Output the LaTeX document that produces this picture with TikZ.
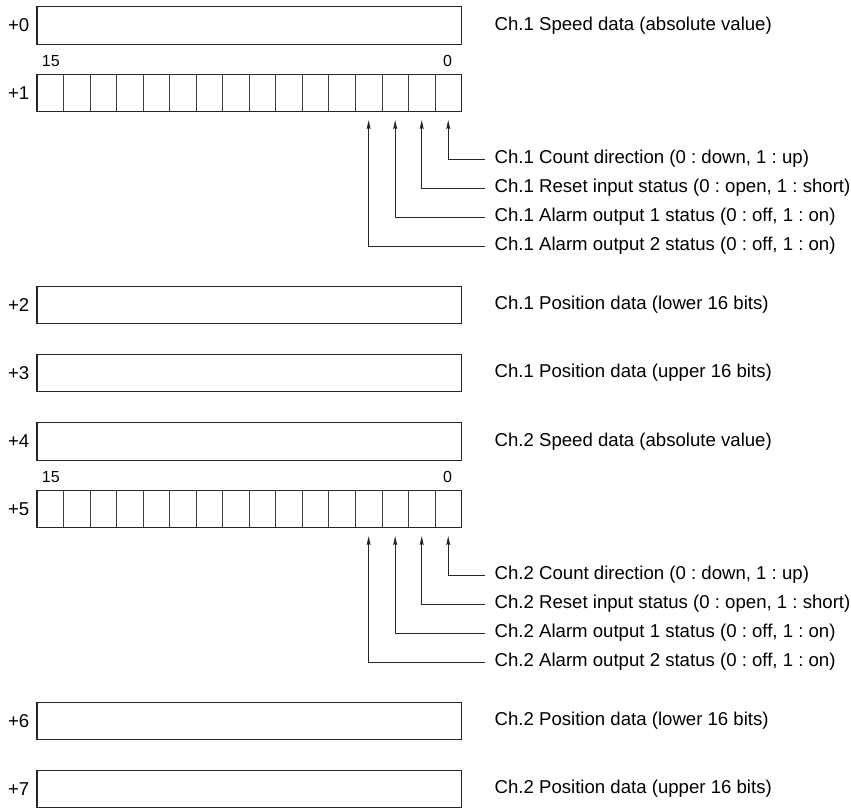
\documentclass[tikz,border=0pt]{standalone}
\usepackage{fontspec}
\setmainfont{Liberation Sans}
\usetikzlibrary{arrows.meta}
\begin{document}
\frenchspacing
\begin{tikzpicture}[x=1pt,y=-1pt,
  reg/.style={draw=black!85, line width=1.1pt, minimum width=424.5pt, minimum height=37.5pt, inner sep=0pt},
  bitcell/.style={draw=black!75, line width=0.8pt, minimum width=26.53pt, minimum height=37.5pt, inner sep=0pt},
  addr/.style={anchor=east, inner sep=0pt, font=\fontsize{18.6}{22}\selectfont},
  desc/.style={anchor=west, inner sep=0pt, font=\fontsize{18.6}{22}\selectfont},
  bitnum/.style={inner sep=0pt, font=\fontsize{16}{18}\selectfont},
  arr/.style={draw=black!85, line width=0.8pt, -{Stealth[length=9pt,width=4pt,inset=1.5pt]}}]
\useasboundingbox (0,0) rectangle (851,809);

% ---------- registers ----------
\node[reg] (r0) at (249.25,25.5) {};
\node[addr] (a0) at (29.5,25.5) {+0};
\node[desc] (t0) at (494.5,25.5) {Ch.1 Speed data (absolute value)};

\foreach \i in {0,...,15} \node[bitcell] (c1-\i) at ({461.5-(\i+0.5)*26.53},93) {};
\node[reg] (r1) at (249.25,93) {};
\node[addr] (a1) at (29.5,93) {+1};
\node[bitnum] (n1h) at (50.8,61) {15};
\node[bitnum] (n1l) at (447.5,61) {0};

\node[desc] (d10) at (494.5,159) {Ch.1 Count direction (0 : down, 1 : up)};
\node[desc] (d11) at (494.5,188) {Ch.1 Reset input status (0 : open, 1 : short)};
\node[desc] (d12) at (494.5,217) {Ch.1 Alarm output 1 status (0 : off, 1 : on)};
\node[desc] (d13) at (494.5,246) {Ch.1 Alarm output 2 status (0 : off, 1 : on)};
\foreach \i in {0,...,3}
  \draw[arr] ([xshift=-9.5pt]d1\i.west) -| ([yshift=-8pt]c1-\i.south);

\node[reg] (r2) at (249.25,305) {};
\node[addr] (a2) at (29.5,305) {+2};
\node[desc] (t2) at (494.5,305) {Ch.1 Position data (lower 16 bits)};

\node[reg] (r3) at (249.25,373) {};
\node[addr] (a3) at (29.5,373) {+3};
\node[desc] (t3) at (494.5,373) {Ch.1 Position data (upper 16 bits)};

\node[reg] (r4) at (249.25,441.5) {};
\node[addr] (a4) at (29.5,441.5) {+4};
\node[desc] (t4) at (494.5,441.5) {Ch.2 Speed data (absolute value)};

\foreach \i in {0,...,15} \node[bitcell] (c5-\i) at ({461.5-(\i+0.5)*26.53},509) {};
\node[reg] (r5) at (249.25,509) {};
\node[addr] (a5) at (29.5,509) {+5};
\node[bitnum] (n5h) at (50.8,477) {15};
\node[bitnum] (n5l) at (447.5,477) {0};

\node[desc] (d50) at (494.5,575) {Ch.2 Count direction (0 : down, 1 : up)};
\node[desc] (d51) at (494.5,604) {Ch.2 Reset input status (0 : open, 1 : short)};
\node[desc] (d52) at (494.5,633) {Ch.2 Alarm output 1 status (0 : off, 1 : on)};
\node[desc] (d53) at (494.5,662) {Ch.2 Alarm output 2 status (0 : off, 1 : on)};
\foreach \i in {0,...,3}
  \draw[arr] ([xshift=-9.5pt]d5\i.west) -| ([yshift=-8pt]c5-\i.south);

\node[reg] (r6) at (249.25,721) {};
\node[addr] (a6) at (29.5,721) {+6};
\node[desc] (t6) at (494.5,721) {Ch.2 Position data (lower 16 bits)};

\node[reg] (r7) at (249.25,789) {};
\node[addr] (a7) at (29.5,789) {+7};
\node[desc] (t7) at (494.5,789) {Ch.2 Position data (upper 16 bits)};
\end{tikzpicture}
\end{document}
